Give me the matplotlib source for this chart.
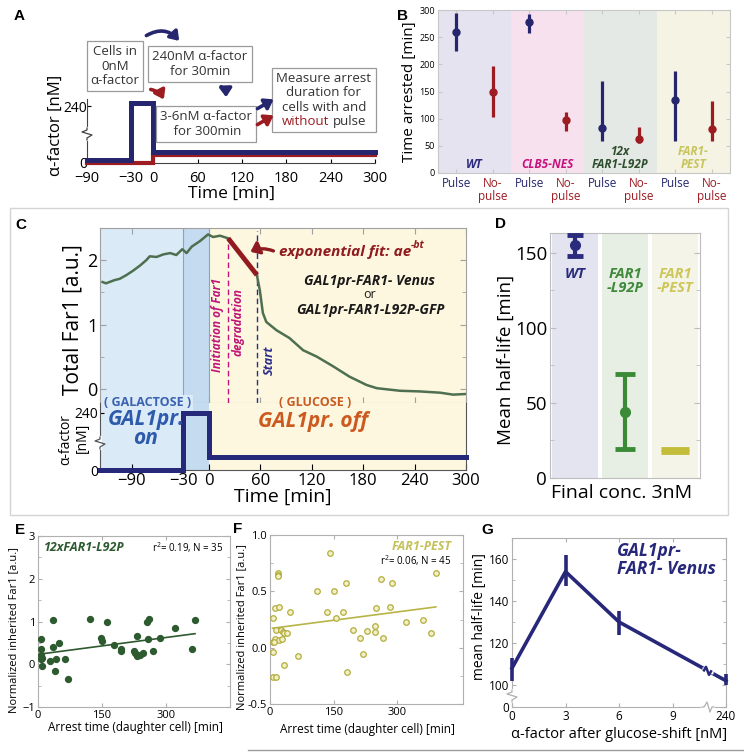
import numpy as np
import matplotlib
matplotlib.use("Agg")
import matplotlib.pyplot as plt
from matplotlib.lines import Line2D
from matplotlib.patches import FancyArrowPatch, Rectangle
from matplotlib.ticker import FixedLocator, MultipleLocator, FormatStrFormatter
from matplotlib.transforms import ScaledTranslation
from matplotlib.offsetbox import TextArea, VPacker, HPacker, AnnotationBbox

W, H = 744, 753

# ---------------- data ----------------
# A: alpha-factor protocol (min, nM)
a_time = [-90, -30, 0, 300]
a_pulse = [0, 240, 3, 3]
a_nopulse = [0, 0, 3, 3]

# B: time arrested [min]
b_groups = ["WT", "CLB5-NES", "12x\nFAR1-L92P", "FAR1-\nPEST"]
b_pulse = [260, 277, 83, 135]
b_pulse_lo = [225, 258, 58, 58]
b_pulse_hi = [295, 293, 170, 188]
b_nopulse = [150, 97, 62, 81]
b_nopulse_lo = [103, 78, 55, 58]
b_nopulse_hi = [197, 113, 84, 133]

# C: total Far1 trace
c_time = [-124, -120, -110, -104, -96, -88, -80, -73, -69, -61, -53, -45, -38, -31,
          -26, -20, -10, -1, 5, 13, 22.5, 56, 59.5, 63, 67, 79, 94, 110, 126, 145,
          164, 184, 196, 223, 246, 270, 285, 300]
c_far1 = [1.66, 1.64, 1.69, 1.71, 1.77, 1.84, 1.92, 2.00, 2.06, 2.05, 2.09, 2.11,
          2.08, 2.17, 2.11, 2.21, 2.30, 2.40, 2.36, 2.38, 2.34, 1.77, 1.53, 1.18,
          1.04, 0.91, 0.79, 0.60, 0.50, 0.35, 0.19, 0.06, 0.01, -0.03, -0.04,
          -0.06, -0.09, -0.08]
c_fit_t = [22.5, 56]
c_fit_y = [2.34, 1.77]
c_init = 22.5
c_start = 56
c_alpha_t = [-127, -30, 0, 300]
c_alpha = [0, 240, 3, 3]
c_xticks = [-90, -30, 0, 60, 120, 180, 240, 300]

# D: mean half-life, final conc. 3nM
d_labels = ["WT", "FAR1\n-L92P", "FAR1\n-PEST"]
d_mean = [155, 44, 18]
d_lo = [147.5, 19.5, 17]
d_hi = [162, 69, 19.5]

# E: 12xFAR1-L92P
e_x = [6, 7, 7, 8, 9, 9, 28, 34, 35, 39, 42, 50, 63, 71, 123, 147, 149, 161, 177,
       194, 194, 224, 228, 233, 238, 247, 255, 257, 260, 269, 286, 321, 360, 368, 232]
e_y = [0.36, 0.60, 0.21, 0.13, -0.05, 0.15, 0.08, 0.41, 1.03, -0.16, 0.12, 0.49,
       0.13, -0.35, 1.05, 0.61, 0.54, 0.98, 0.44, 0.36, 0.30, 0.30, 0.27, 0.66,
       0.21, 0.26, 1.00, 0.60, 1.05, 0.30, 0.61, 0.84, 0.36, 1.03, 0.19]

# F: FAR1-PEST
f_x = [142, 18, 18, 6, 12, 22, 6, 6, 8, 14, 14, 12, 22, 25, 30, 34, 39, 32, 47, 65,
       111, 134, 152, 156, 171, 180, 182, 196, 212, 220, 228, 247, 248, 251, 262,
       267, 284, 288, 320, 361, 379, 391, 18, 10, 28]
f_y = [0.84, 0.66, 0.645, 0.26, 0.35, 0.36, 0.05, -0.04, -0.26, -0.26, 0.16, 0.08,
       0.07, 0.16, 0.14, 0.13, 0.13, -0.15, 0.32, -0.07, 0.50, 0.32, 0.50, 0.26,
       0.32, 0.57, -0.22, 0.16, 0.09, -0.06, 0.15, 0.19, 0.14, 0.35, 0.61, 0.09,
       0.36, 0.57, 0.23, 0.25, 0.13, 0.66, 0.64, 0.05, 0.08]

# G: half-life vs alpha-factor
g_conc = [0, 3, 6, 240]
g_mean = [108, 154, 130, 102]
g_lo = [102, 147, 124, 99.5]
g_hi = [113, 162, 135, 105]

# ---------------- style ----------------
plt.rcParams['font.family'] = ['Open Sans', 'DejaVu Sans']
plt.rcParams['mathtext.fontset'] = 'custom'
plt.rcParams['mathtext.rm'] = 'Open Sans'
plt.rcParams['mathtext.it'] = 'Open Sans:italic'
plt.rcParams['mathtext.bf'] = 'Open Sans:bold'
plt.rcParams['xtick.direction'] = 'in'
plt.rcParams['ytick.direction'] = 'in'

NAVY = '#26266e'
RED = '#9c1c22'
GRAY = '#a8a8a8'
INK = '#333333'

fig = plt.figure(figsize=(W / 100, H / 100), dpi=100)


def px_axes(l, t, r, b):
    return fig.add_axes([l / W, 1 - b / H, (r - l) / W, (b - t) / H])


def ftext(x, y, s, **kw):
    return fig.text(x / W, 1 - y / H, s, **kw)


def fig_line(xs, ys, **kw):
    fig.add_artist(Line2D([x / W for x in xs], [1 - y / H for y in ys],
                          transform=fig.transFigure, **kw))


def vbreak(x, y, color):
    fig_line([x, x], [y - 5, y + 5], color='white', lw=3, zorder=10)
    fig_line([x, x, x + 5, x - 5, x, x], [y + 6, y + 4, y + 1, y - 2, y - 4, y - 6],
             color=color, lw=0.9, zorder=11)


def hbreak(x, y, color):
    fig_line([x - 5, x + 5], [y, y], color='white', lw=3, zorder=10)
    fig_line([x - 6, x - 4, x - 1, x + 2, x + 4, x + 6], [y, y, y - 5, y + 5, y, y],
             color=color, lw=0.9, zorder=11)


def compress_above(b, k):
    def fwd(v):
        v = np.asarray(v, dtype=float)
        return np.where(v <= b, v, b + (v - b) * k)

    def inv(u):
        u = np.asarray(u, dtype=float)
        return np.where(u <= b, u, b + (u - b) / k)
    return fwd, inv


def compress_below(b, k):
    def fwd(v):
        v = np.asarray(v, dtype=float)
        return np.where(v >= b, v, b - (b - v) * k)

    def inv(u):
        u = np.asarray(u, dtype=float)
        return np.where(u >= b, u, b - (b - u) / k)
    return fwd, inv


def gray_box(ax, color=GRAY):
    for s in ax.spines.values():
        s.set_color(color)
        s.set_linewidth(0.8)
    ax.tick_params(which='both', color=color, top=True, right=True)


def fig_arrow(p0, p1, color, rad, head=(5, 3.5), lw=2.6):
    arr = FancyArrowPatch((p0[0] / W, 1 - p0[1] / H), (p1[0] / W, 1 - p1[1] / H),
                          transform=fig.transFigure, connectionstyle=f"arc3,rad={rad}",
                          arrowstyle=f"-|>,head_length={head[0]},head_width={head[1]}",
                          color=color, lw=lw, mutation_scale=1, zorder=14)
    fig.add_artist(arr)


# ---------------- panel A ----------------
ax_a = px_axes(87, 99, 375, 163)
fwd, inv = compress_above(10, 0.0494)
ax_a.set_yscale('function', functions=(fwd, inv))
ax_a.set_xlim(-90, 300)
ax_a.set_ylim(0, float(inv(24)))
ax_a.plot(a_time, a_nopulse, drawstyle='steps-post', color=RED, lw=3, zorder=3,
          clip_on=False, solid_joinstyle='miter')
lift = ax_a.transData + ScaledTranslation(0, 0.03, fig.dpi_scale_trans)
ax_a.plot(a_time, a_pulse, drawstyle='steps-post', color=NAVY, lw=3.6, zorder=4,
          clip_on=False, transform=lift, solid_joinstyle='miter')
ax_a.spines[['top', 'right']].set_visible(False)
for s in ('left', 'bottom'):
    ax_a.spines[s].set_color('#444444')
ax_a.set_xticks([-90, -30, 0, 60, 120, 180, 240, 300])
ax_a.set_yticks([0, 240])
ax_a.yaxis.set_minor_locator(FixedLocator([]))
ax_a.tick_params(axis='x', labelsize=10.5, length=3, pad=6)
ax_a.tick_params(axis='y', labelsize=10, length=3, pad=0)
ax_a.set_xlabel("Time [min]", fontsize=12.5, labelpad=0)
ftext(56, 125, "α-factor [nM]", fontsize=12, rotation=90, ha='center', va='center')
vbreak(87, 134, '#444444')

box_kw = dict(boxstyle='square,pad=0.3', fc='white', ec='#9a9a9a', lw=0.9)
ftext(115, 66, "Cells in\n0nM\nα-factor", fontsize=9.5, ha='center', va='center',
      color=INK, bbox=box_kw, linespacing=1.15, zorder=12)
ftext(200, 64, "240nM α-factor\nfor 30min", fontsize=9.5, ha='center', va='center',
      color=INK, bbox=box_kw, linespacing=1.15, zorder=12)
ftext(206, 124, "3-6nM α-factor\n for 300min", fontsize=9.5, ha='center', va='center',
      color=INK, bbox=box_kw, linespacing=1.15, zorder=12)

tp = dict(fontsize=9.5, color=INK)
rows = [TextArea(s, textprops=tp) for s in ["Measure arrest", "duration for", "cells with and"]]
rows.append(HPacker(children=[TextArea("without", textprops=dict(fontsize=9.5, color=RED)),
                              TextArea("pulse", textprops=tp)],
                    align='baseline', pad=0, sep=3))
measure = VPacker(children=rows, align='center', pad=0, sep=1)
ab = AnnotationBbox(measure, (324 / W, 1 - 100 / H), xycoords='figure fraction',
                    box_alignment=(0.5, 0.5), frameon=True, pad=0.3,
                    bboxprops=dict(boxstyle='square', ec='#9a9a9a', fc='white', lw=0.9))
ab.set_zorder(12)
fig.add_artist(ab)

fig_arrow((144, 37), (181, 43), NAVY, -0.45)
fig_arrow((148, 89), (165, 102), RED, -0.3)
fig_arrow((219, 85), (226, 100), NAVY, -0.3)
fig_arrow((255, 110), (276, 98), NAVY, 0.0)
fig_arrow((255, 126), (276, 114), RED, 0.0)

# ---------------- panel B ----------------
ax_b = px_axes(438, 10, 730, 173)
band_b = ['#e4e3ef', '#f7e1ef', '#e5e9e5', '#f4f3e4']
text_b = ['#2b2a7d', '#c5127e', '#2e4f2e', '#c8c45e']
xp = np.arange(len(b_groups)) * 2 + 1
xn = xp + 1
for i in range(len(b_groups)):
    ax_b.axvspan(xp[i] - 0.5, xn[i] + 0.5, color=band_b[i], lw=0, zorder=0)
    ax_b.text(xp[i] + 0.5, 3, b_groups[i], ha='center', va='bottom', fontsize=8.5,
              fontweight='bold', style='italic', color=text_b[i], linespacing=1.0)
ax_b.errorbar(xp, b_pulse, yerr=[np.subtract(b_pulse, b_pulse_lo), np.subtract(b_pulse_hi, b_pulse)],
              fmt='o', color=NAVY, ms=5, elinewidth=2.3, capsize=0, zorder=3)
ax_b.errorbar(xn, b_nopulse, yerr=[np.subtract(b_nopulse, b_nopulse_lo), np.subtract(b_nopulse_hi, b_nopulse)],
              fmt='o', color=RED, ms=5, elinewidth=2.3, capsize=0, zorder=3)
ax_b.set_xlim(0.5, 8.5)
ax_b.set_ylim(0, 300)
ax_b.set_yticks(np.arange(0, 301, 50))
xt = np.ravel(np.column_stack([xp, xn]))
ax_b.set_xticks(xt)
ax_b.set_xticklabels(["Pulse", "No-\npulse"] * len(b_groups), fontsize=8.5, linespacing=0.95)
for i, lab in enumerate(ax_b.get_xticklabels()):
    lab.set_color(NAVY if i % 2 == 0 else RED)
gray_box(ax_b, '#c8c8c8')
ax_b.tick_params(axis='y', labelsize=6.5, length=3, pad=2)
ax_b.tick_params(axis='x', length=3, pad=3)
ax_b.set_ylabel("Time arrested [min]", fontsize=11, labelpad=2)

# ---------------- panel C ----------------
fig.add_artist(Rectangle((10 / W, 1 - 515 / H), 718 / W, 307 / H, transform=fig.transFigure,
                         fill=False, ec='#d4d4d4', lw=1))
ax_c = px_axes(100, 228, 466, 403)
ax_c2 = px_axes(100, 403, 466, 470)
bg = [(-127, -30, '#dbeaf7'), (-30, 0, '#c4dbf0'), (0, 300, '#fdf7df')]
for ax in (ax_c, ax_c2):
    for x0, x1, col in bg:
        ax.axvspan(x0, x1, color=col, lw=0, zorder=0)
    ax.set_xlim(-127, 300)
    ax.set_xticks(c_xticks)

ax_c.axvline(-30, color='#7fa8d0', lw=0.8, zorder=1)
ax_c.axvline(0, color='#7fa8d0', lw=0.8, zorder=1)
ax_c.plot(c_time, c_far1, color='#4e6f50', lw=1.8, zorder=3)
ax_c.plot(c_fit_t, c_fit_y, color='#931b20', lw=3.5, zorder=4, solid_capstyle='butt')
ax_c.set_ylim(-0.22, 2.5)
ax_c.plot([c_init, c_init], [-0.22, c_fit_y[0]], color='#c0157a', lw=1, ls=(0, (4, 2.5)), zorder=2)
ax_c.plot([c_start, c_start], [-0.22, 2.45], color='#2b2d8e', lw=1, ls=(0, (4, 2.5)), zorder=2)
ax_c.set_yticks([0, 1, 2])
ax_c.yaxis.set_minor_locator(MultipleLocator(0.5))
gray_box(ax_c, '#a0a0a0')
ax_c.tick_params(labelbottom=False, labelsize=13, pad=2, length=4)
ax_c.tick_params(which='minor', length=3)
ftext(73, 320, "Total Far1 [a.u.]", fontsize=15, rotation=90, ha='center', va='center')

ftext(217, 325, "Initiation of Far1", fontsize=8.5, rotation=90, ha='center', va='center',
      color='#c0157a', fontweight='bold', style='italic')
ftext(238, 322, "degradation", fontsize=8.5, rotation=90, ha='center', va='center',
      color='#c0157a', fontweight='bold', style='italic')
ftext(269, 360, "Start", fontsize=9, rotation=90, ha='center', va='center',
      color='#2b2d8e', fontweight='bold', style='italic')
t_fit = ftext(279, 252, "exponential fit: ae", fontsize=11, ha='left', va='center',
              color='#8f1a1f', fontweight='bold', style='italic')
ax_c.annotate("-bt", xy=(1, 0.55), xycoords=t_fit, ha='left', va='bottom', fontsize=7.5,
              color='#8f1a1f', fontweight='bold', style='italic', annotation_clip=False)
fig_arrow((276, 252), (248, 253), '#8f1a1f', 0.25, head=(5, 4), lw=2.4)
ftext(370, 281, "GAL1pr-FAR1- Venus", fontsize=10, ha='center', va='center',
      fontweight='bold', style='italic', color='#1a1a1a')
ftext(370, 295, "or", fontsize=9, ha='center', va='center', color='#1a1a1a')
ftext(370, 310, "GAL1pr-FAR1-L92P-GFP", fontsize=10, ha='center', va='center',
      fontweight='bold', style='italic', color='#1a1a1a')

fwd_c, inv_c = compress_above(6, 0.0308)
ax_c2.set_yscale('function', functions=(fwd_c, inv_c))
ax_c2.set_ylim(0, float(inv_c(15.5)))
ax_c2.plot(c_alpha_t, c_alpha, drawstyle='steps-post', color='#26287a', lw=3.6,
           zorder=3, clip_on=False, solid_joinstyle='miter')
ax_c2.set_yticks([0, 240])
ax_c2.yaxis.set_minor_locator(FixedLocator([]))
ax_c2.spines['top'].set_visible(False)
for s in ('left', 'bottom', 'right'):
    ax_c2.spines[s].set_color('#555555')
ax_c2.tick_params(axis='x', labelsize=12, pad=2, length=4)
ax_c2.tick_params(axis='y', labelsize=10, pad=1, length=3)
ftext(283, 497, "Time [min]", fontsize=14, ha='center', va='center')
ftext(66, 440, "α-factor", fontsize=10, rotation=90, ha='center', va='center')
ftext(82, 438, "[nM]", fontsize=10, rotation=90, ha='center', va='center')
vbreak(100, 443, '#555555')

ftext(148, 403, "( GALACTOSE )", fontsize=9, ha='center', va='center', color='#3b62b0',
      fontweight='bold', bbox=dict(boxstyle='square,pad=0.1', fc='#dbeaf7', ec='none'), zorder=12)
ftext(315, 403, "( GLUCOSE )", fontsize=9, ha='center', va='center', color='#c85a22',
      fontweight='bold', bbox=dict(boxstyle='square,pad=0.1', fc='#fdf7df', ec='none'), zorder=12)
ftext(146, 429, "GAL1pr.\non", fontsize=15, ha='center', va='center', color='#2e5aac',
      fontweight='bold', style='italic', linespacing=0.85, zorder=12)
ftext(313, 422, "GAL1pr. off", fontsize=15, ha='center', va='center', color='#cc5a20',
      fontweight='bold', style='italic', zorder=12)

# ---------------- panel D ----------------
ax_d = px_axes(550, 233, 700, 478)
band_d = ['#e4e4f1', '#e7eee4', '#f4f4e8']
col_d = ['#2b2b7e', '#3a8a36', '#c4bd3a']
txt_d = ['#2b2b7e', '#3f8a3a', '#cdc75a']
caps_d = [6, 7.5, 10]
for i in range(len(d_labels)):
    xi = i + 1
    ax_d.axvspan(xi - 0.46, xi + 0.46, color=band_d[i], lw=0, zorder=0)
    ax_d.errorbar([xi], [d_mean[i]], yerr=[[d_mean[i] - d_lo[i]], [d_hi[i] - d_mean[i]]],
                  fmt='o', color=col_d[i], ms=7 if i < 2 else 0, elinewidth=3,
                  capsize=caps_d[i], capthick=3.5, zorder=3, clip_on=False)
ax_d.text(1, 136, d_labels[0], ha='center', va='center', fontsize=10.5, fontweight='bold',
          style='italic', color=txt_d[0])
ax_d.text(2, 131, d_labels[1], ha='center', va='center', fontsize=10.5, fontweight='bold',
          style='italic', color=txt_d[1], linespacing=1.0)
ax_d.text(3, 131, d_labels[2], ha='center', va='center', fontsize=10.5, fontweight='bold',
          style='italic', color=txt_d[2], linespacing=1.0)
ax_d.set_xlim(0.5, 3.5)
ax_d.set_ylim(0, 163)
ax_d.set_xticks([])
ax_d.set_yticks([0, 50, 100, 150])
ax_d.yaxis.set_minor_locator(MultipleLocator(25))
gray_box(ax_d, '#bdbdbd')
ax_d.tick_params(labelsize=13.5, pad=2, length=4)
ax_d.tick_params(which='minor', length=3)
ftext(506, 360, "Mean half-life [min]", fontsize=13.5, rotation=90, ha='center', va='center')
ftext(622, 493, "Final conc. 3nM", fontsize=14, ha='center', va='center')

# ---------------- panel E ----------------
ax_e = px_axes(38, 536, 230, 707)
ax_e.scatter(e_x, e_y, s=18, color='#2e5a30', zorder=3)
pe = np.polyfit(e_x, e_y, 1)
xe = np.array([min(e_x), max(e_x)])
ax_e.plot(xe, np.polyval(pe, xe), color='#2e5a30', lw=1.2, zorder=2)
ax_e.set_xlim(0, 450)
ax_e.set_ylim(-1, 3)
ax_e.set_xticks([0, 150, 300])
ax_e.set_yticks([-1, 0, 1, 2, 3])
ax_e.yaxis.set_minor_locator(MultipleLocator(0.5))
gray_box(ax_e, '#b0b0b0')
ax_e.tick_params(labelsize=8, pad=2, length=3)
ax_e.tick_params(which='minor', length=2)
ax_e.text(0.03, 0.935, "12xFAR1-L92P", transform=ax_e.transAxes, fontsize=9,
          fontweight='bold', style='italic', color='#2e5a30', va='center')
ax_e.text(0.965, 0.935, "r$^2$= 0.19, N = 35", transform=ax_e.transAxes, fontsize=7,
          ha='right', va='center')
ftext(14, 630, "Normalized inherited Far1 [a.u.]", fontsize=8, rotation=90,
      ha='center', va='center')
ftext(135, 728, "Arrest time (daughter cell) [min]", fontsize=8.5, ha='center', va='center')

# ---------------- panel F ----------------
ax_f = px_axes(270, 535, 463, 704)
ax_f.scatter(f_x, f_y, s=16, facecolor='#f3f0c6', edgecolor='#b3ae3e', lw=0.9, zorder=3)
pf = np.polyfit(f_x, f_y, 1)
xf = np.array([min(f_x), max(f_x)])
ax_f.plot(xf, np.polyval(pf, xf), color='#b8b445', lw=1.2, zorder=2)
ax_f.set_xlim(0, 455)
ax_f.set_ylim(-0.5, 1.0)
ax_f.set_xticks([0, 150, 300])
ax_f.set_yticks([-0.5, 0.0, 0.5, 1.0])
ax_f.yaxis.set_major_formatter(FormatStrFormatter('%.1f'))
ax_f.yaxis.set_minor_locator(MultipleLocator(0.25))
gray_box(ax_f, '#b0b0b0')
ax_f.tick_params(labelsize=8, pad=2, length=3)
ax_f.tick_params(which='minor', length=2)
ax_f.text(0.94, 0.93, "FAR1-PEST", transform=ax_f.transAxes, fontsize=9,
          fontweight='bold', style='italic', color='#c5c15a', ha='right', va='center')
ax_f.text(0.94, 0.85, "r$^2$= 0.06, N = 45", transform=ax_f.transAxes, fontsize=7,
          ha='right', va='center')
ftext(242, 627, "Normalized inherited Far1 [a.u.]", fontsize=8, rotation=90,
      ha='center', va='center')
ftext(367, 730, "Arrest time (daughter cell) [min]", fontsize=8.5, ha='center', va='center')

# ---------------- panel G ----------------
ax_g = px_axes(512, 538, 726, 707)
fwd_gx, inv_gx = compress_above(10.5, 1.5 / 229.5)
fwd_gy, inv_gy = compress_below(100, 0.105)
ax_g.set_xscale('function', functions=(fwd_gx, inv_gx))
ax_g.set_yscale('function', functions=(fwd_gy, inv_gy))
ax_g.set_xlim(0, 240)
ax_g.set_ylim(0, 170)
ax_g.plot(g_conc, g_mean, color='#27287a', lw=2.6, zorder=3, clip_on=False)
ax_g.errorbar(g_conc, g_mean, yerr=[np.subtract(g_mean, g_lo), np.subtract(g_hi, g_mean)],
              fmt='none', ecolor='#27287a', elinewidth=2.6, capsize=0, zorder=3, clip_on=False)
ax_g.set_xticks(g_conc[:3] + [9, 240])
ax_g.set_yticks([0, 100, 120, 140, 160])
ax_g.xaxis.set_minor_locator(FixedLocator([]))
ax_g.yaxis.set_minor_locator(FixedLocator([110, 130, 150]))
gray_box(ax_g, '#b0b0b0')
ax_g.tick_params(labelsize=8.5, pad=2, length=3)
ax_g.tick_params(which='minor', length=2)
ax_g.text(0.49, 0.87, "GAL1pr-\nFAR1- Venus", transform=ax_g.transAxes, fontsize=12.5,
          fontweight='bold', style='italic', color='#27287a', va='center', linespacing=1.05)
ftext(480, 617, "mean half-life [min]", fontsize=10, rotation=90, ha='center', va='center')
ftext(619, 735, "α-factor after glucose-shift [nM]", fontsize=10.5, ha='center', va='center')
vbreak(512, 696, '#b0b0b0')
hbreak(708, 707, '#b0b0b0')

# kink in the data line where the x axis breaks
p_a = ax_g.transData.transform((g_conc[2], g_mean[2]))
p_b = ax_g.transData.transform((g_conc[3], g_mean[3]))
bx = 708
frac = (bx - p_a[0]) / (p_b[0] - p_a[0])
by = H - (p_a[1] + frac * (p_b[1] - p_a[1]))
fig_line([bx - 3, bx + 3], [by - 0.5, by + 0.5], color='white', lw=4, zorder=10)
fig_line([bx - 4, bx - 2, bx + 1, bx + 3], [by - 0.5, by - 4, by + 4, by + 0.5],
         color='#27287a', lw=1.8, zorder=11)

# ---------------- panel letters and frame lines ----------------
for lab, x, y in [("A", 19, 16), ("B", 402, 16), ("C", 21, 225), ("D", 501, 224),
                  ("E", 20, 530), ("F", 238, 529), ("G", 487, 530)]:
    ftext(x, y, lab, fontsize=11, fontweight='bold', ha='center', va='center',
          family=['Liberation Sans', 'DejaVu Sans'])
fig_line([248, 744], [750, 750], color='#9a9a9a', lw=1)

fig.savefig("out.png", dpi=100)
